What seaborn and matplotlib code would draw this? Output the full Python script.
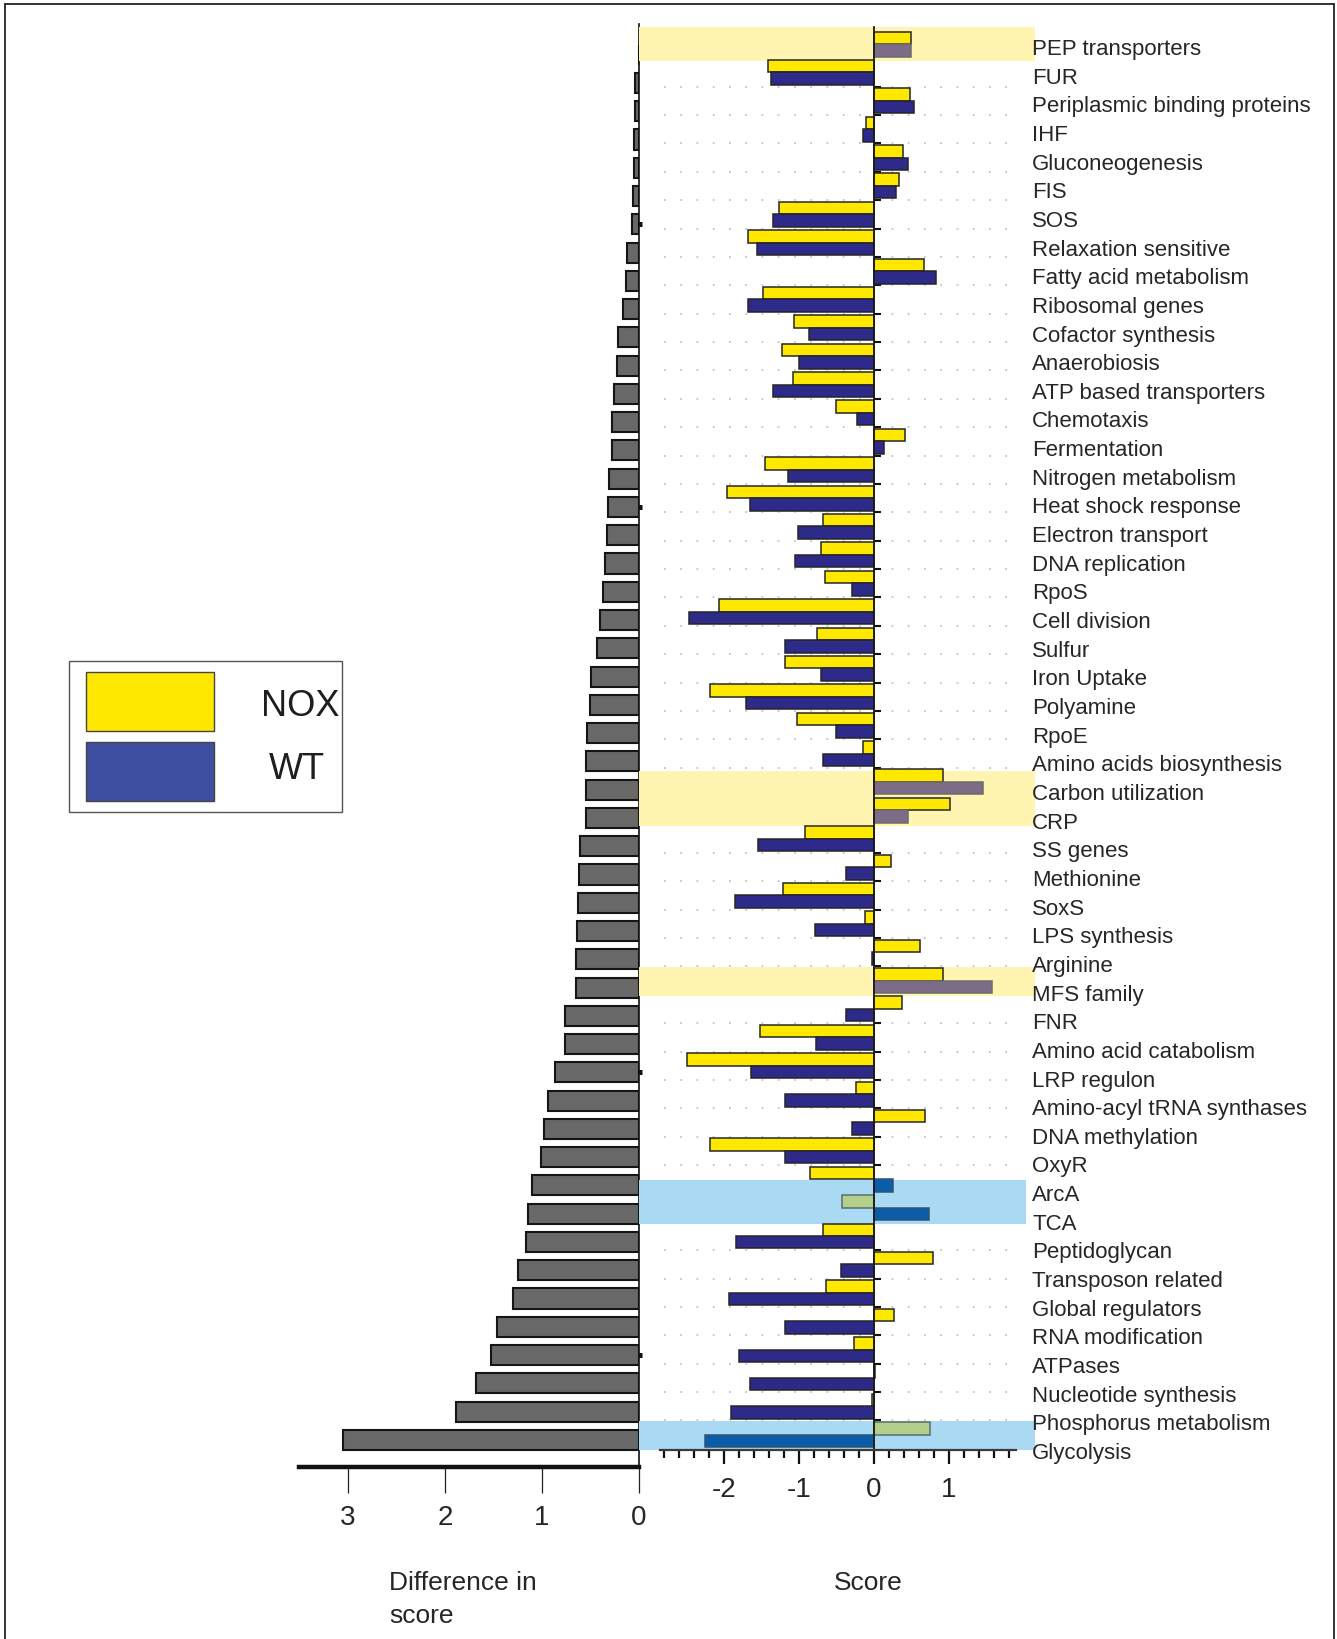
import numpy as np
import pandas as pd
import matplotlib
matplotlib.use("Agg")
import matplotlib.pyplot as plt
from matplotlib import font_manager
from matplotlib.lines import Line2D
from matplotlib.patches import Rectangle
from matplotlib.ticker import FixedLocator
import seaborn as sns

# ---------------------------------------------------------------- data
categories = [
    "PEP transporters", "FUR", "Periplasmic binding proteins", "IHF",
    "Gluconeogenesis", "FIS", "SOS", "Relaxation sensitive",
    "Fatty acid metabolism", "Ribosomal genes", "Cofactor synthesis",
    "Anaerobiosis", "ATP based transporters", "Chemotaxis", "Fermentation",
    "Nitrogen metabolism", "Heat shock response", "Electron transport",
    "DNA replication", "RpoS", "Cell division", "Sulfur", "Iron Uptake",
    "Polyamine", "RpoE", "Amino acids biosynthesis", "Carbon utilization",
    "CRP", "SS genes", "Methionine", "SoxS", "LPS synthesis", "Arginine",
    "MFS family", "FNR", "Amino acid catabolism", "LRP regulon",
    "Amino-acyl tRNA synthases", "DNA methylation", "OxyR", "ArcA", "TCA",
    "Peptidoglycan", "Transposon related", "Global regulators",
    "RNA modification", "ATPases", "Nucleotide synthesis",
    "Phosphorus metabolism", "Glycolysis",
]

nox_score = [
    0.50, -1.41, 0.48, -0.10, 0.39, 0.34, -1.27, -1.68, 0.67, -1.48,
    -1.06, -1.22, -1.08, -0.50, 0.41, -1.45, -1.96, -0.68, -0.70, -0.65,
    -2.06, -0.76, -1.19, -2.19, -1.03, -0.15, 0.92, 1.01, -0.92, 0.23,
    -1.21, -0.12, 0.61, 0.92, 0.37, -1.52, -2.49, -0.24, 0.68, -2.19,
    -0.85, -0.42, -0.68, 0.79, -0.64, 0.27, -0.27, 0.01, -0.03, 0.75,
]

wt_score = [
    0.50, -1.37, 0.54, -0.15, 0.45, 0.29, -1.35, -1.56, 0.83, -1.68,
    -0.86, -1.00, -1.35, -0.23, 0.13, -1.15, -1.65, -1.01, -1.05, -0.29,
    -2.46, -1.19, -0.70, -1.70, -0.50, -0.68, 1.46, 0.46, -1.54, -0.37,
    -1.85, -0.78, -0.03, 1.58, -0.37, -0.77, -1.64, -1.18, -0.29, -1.18,
    0.25, 0.73, -1.84, -0.44, -1.93, -1.19, -1.80, -1.65, -1.91, -2.25,
]

score_difference = [
    0.0, 0.04, 0.04, 0.045, 0.045, 0.055, 0.065, 0.12, 0.135, 0.165,
    0.21, 0.225, 0.25, 0.275, 0.28, 0.31, 0.32, 0.325, 0.345, 0.365,
    0.40, 0.425, 0.49, 0.50, 0.535, 0.54, 0.545, 0.545, 0.61, 0.62,
    0.625, 0.635, 0.645, 0.645, 0.76, 0.765, 0.86, 0.94, 0.98, 1.005,
    1.105, 1.14, 1.16, 1.245, 1.30, 1.46, 1.525, 1.675, 1.88, 3.055,
]

score_ticks = [-2, -1, 0, 1]
score_tick_labels = ["-2", "-1", "0", "1"]
difference_ticks = [0, 1, 2, 3]
difference_tick_labels = ["0", "1", "2", "3"]

# highlighted rows: (first row edge, last row edge, right end in score units)
yellow_groups = [(-0.6, 0.6, None), (25.6, 27.56, None), (32.52, 33.54, None)]
blue_groups = [(40.03, 41.58, 2.03), (48.53, 49.54, None)]
yellow_rows_wt = [0, 26, 27, 33]
blue_rows_nox = [41, 49]
blue_rows_wt = [40, 41, 49]

# ---------------------------------------------------------------- style
YELLOW = "#FFE800"
NAVY = "#2D2A8A"
GRAY = "#686868"
BAND_YELLOW = "#FFF5B1"
BAND_BLUE = "#AADAF3"
WT_ON_YELLOW = "#7C6C87"
NOX_ON_BLUE = "#B2D08C"
WT_ON_BLUE = "#0B5DAA"

sns.set_theme(style="white")
installed = {f.name for f in font_manager.fontManager.ttflist}
narrow = "Liberation Sans Narrow" if "Liberation Sans Narrow" in installed else "Liberation Sans"
plt.rcParams["font.family"] = ["Liberation Sans", "DejaVu Sans"]
plt.rcParams["axes.unicode_minus"] = False
plt.rcParams["text.color"] = "#1e1e1e"

W, H = 1337, 1640
fig = plt.figure(figsize=(W / 100, H / 100), dpi=100)
fig.patch.set_facecolor("white")


def fx(px):
    return px / W


def fy(py):
    return 1 - py / H


n = len(categories)

# ---------------------------------------------------------------- left panel: difference in score
axL = fig.add_axes([fx(299.4), fy(1468), fx(638.7 - 299.4), (1468 - 25) / H])
axL.patch.set_alpha(0)
diff_df = pd.DataFrame({"category": categories, "difference": score_difference})
sns.barplot(data=diff_df, y="category", x="difference", orient="h",
            color=GRAY, saturation=1, width=0.71, errorbar=None,
            edgecolor="#151515", linewidth=1.5, ax=axL)
axL.set_xlim(3.5, 0)
axL.set_ylim(49.96, -1.086)
for side in ("left", "top"):
    axL.spines[side].set_visible(False)
axL.spines["right"].set_color("#111111")
axL.spines["right"].set_linewidth(1.2)
axL.spines["bottom"].set_color("#111111")
axL.spines["bottom"].set_linewidth(3.2)
axL.set_xticks(difference_ticks)
axL.set_xticklabels(difference_tick_labels)
axL.tick_params(axis="x", which="major", direction="out", length=19, width=0.9,
                color="#222222", pad=8, labelsize=20, bottom=True)
axL.yaxis.tick_right()
axL.yaxis.set_major_locator(FixedLocator([6, 16, 26, 36, 46]))
axL.set_yticklabels([])
axL.tick_params(axis="y", which="major", direction="inout", length=5, width=3.6,
                color="#111111", right=True, left=False, labelright=False)
for lbl in axL.get_xticklabels():
    lbl.set_fontfamily([narrow, "DejaVu Sans"])
axL.set_ylabel("")
axL.set_xlabel("Difference in\nscore", fontsize=19, ha="left", linespacing=1.5,
               fontfamily=[narrow, "DejaVu Sans"])
axL.xaxis.set_label_coords((389 - 299.4) / (638.7 - 299.4), (1468 - 1571) / (1468 - 25))

# ---------------------------------------------------------------- right panel: scores
axR = fig.add_axes([fx(639.05), fy(1451), fx(1035 - 639.05), (1451 - 28) / H])
axR.patch.set_alpha(0)
axLab = axR.twinx()

score_df = pd.DataFrame({
    "category": categories * 2,
    "strain": ["NOX"] * n + ["WT"] * n,
    "score": nox_score + wt_score,
})
sns.barplot(data=score_df, y="category", x="score", hue="strain",
            hue_order=["NOX", "WT"], palette={"NOX": YELLOW, "WT": NAVY},
            saturation=1, width=0.88, gap=0, errorbar=None, orient="h",
            edgecolor="#262626", linewidth=1.1, legend=False, ax=axR)

x0, x1 = -3.13, 2.15
axR.set_xlim(x0, x1)
axR.set_ylim(49.54, -0.6)

# tinted bars inside the highlighted rows
nox_bars, wt_bars = axR.containers[0], axR.containers[1]
for r in yellow_rows_wt:
    wt_bars[r].set_facecolor(WT_ON_YELLOW)
    wt_bars[r].set_edgecolor("#6b6b6b")
for r in blue_rows_nox:
    nox_bars[r].set_facecolor(NOX_ON_BLUE)
    nox_bars[r].set_edgecolor("#5a6e6e")
for r in blue_rows_wt:
    wt_bars[r].set_facecolor(WT_ON_BLUE)
    wt_bars[r].set_edgecolor("#2f5470")

# highlight bands
for y0, y1, xe in yellow_groups:
    xm = 1.0 if xe is None else (xe - x0) / (x1 - x0)
    axR.axhspan(y0, y1, xmin=0, xmax=xm, color=BAND_YELLOW, lw=0, zorder=0.6)
for y0, y1, xe in blue_groups:
    xm = 1.0 if xe is None else (xe - x0) / (x1 - x0)
    axR.axhspan(y0, y1, xmin=0, xmax=xm, color=BAND_BLUE, lw=0, zorder=0.6)

# dotted row separators
axR.hlines(np.arange(n - 1) + 0.5, -2.8, 1.85, colors="#c4c4c4",
           linestyles=(0, (1, 8)), lw=1.3, zorder=0.3)

for side in ("top", "right"):
    axR.spines[side].set_visible(False)
axR.spines["left"].set_position(("data", 0))
axR.spines["left"].set_color("#1a1a1a")
axR.spines["left"].set_linewidth(1.3)
axR.spines["bottom"].set_color("#3a3a3a")
axR.spines["bottom"].set_linewidth(1.6)
axR.spines["bottom"].set_bounds(-2.85, 1.9)

axR.set_xticks(score_ticks)
axR.set_xticklabels(score_tick_labels)
axR.xaxis.set_minor_locator(FixedLocator(np.round(np.arange(-2.8, 1.81, 0.2), 2)))
axR.tick_params(axis="x", which="major", direction="out", length=10, width=1.6,
                color="#111111", pad=8.5, labelsize=20, bottom=True)
axR.tick_params(axis="x", which="minor", direction="out", length=5.5, width=1.6,
                color="#111111", bottom=True)
for lbl in axR.get_xticklabels():
    lbl.set_fontfamily([narrow, "DejaVu Sans"])

axR.set_yticks([])
axR.yaxis.set_minor_locator(FixedLocator(np.arange(n - 1) + 0.5))
axR.tick_params(axis="y", which="minor", direction="in", length=5, width=1.5,
                color="#111111", left=True, right=False)
axR.set_ylabel("")
axR.set_xlabel("Score", fontsize=19, fontfamily=[narrow, "DejaVu Sans"])
axR.xaxis.set_label_coords((868 - 639.05) / (1035 - 639.05), (1451 - 1571) / (1451 - 28))

# category names on the right
axLab.set_ylim(48.903, -0.6618)
axLab.set_yticks(range(n))
axLab.set_yticklabels(categories, fontsize=16)
axLab.tick_params(axis="y", length=0, pad=-2, right=True, labelright=True)
for side in axLab.spines:
    axLab.spines[side].set_visible(False)
axLab.set_ylabel("")

# ---------------------------------------------------------------- legend
fig.patches.append(Rectangle((fx(69), fy(813)), fx(342 - 69), (813 - 662) / H,
                             transform=fig.transFigure, facecolor="white",
                             edgecolor="#555555", lw=1.0))
fig.patches.append(Rectangle((fx(86), fy(732)), fx(214 - 86), (732 - 673) / H,
                             transform=fig.transFigure, facecolor=YELLOW,
                             edgecolor="#444444", lw=1.0))
fig.patches.append(Rectangle((fx(86), fy(802)), fx(214 - 86), (802 - 743) / H,
                             transform=fig.transFigure, facecolor="#3F4F9F",
                             edgecolor="#444444", lw=1.0))
fig.text(fx(300), fy(707), "NOX", fontsize=26, ha="center", va="center")
fig.text(fx(297), fy(770), "WT", fontsize=26, ha="center", va="center")

# ---------------------------------------------------------------- frame
frame = dict(color="#222222", lw=1.3, transform=fig.transFigure)
fig.add_artist(Line2D([fx(5), fx(5)], [fy(5), 0], **frame))
fig.add_artist(Line2D([fx(5), fx(1334)], [fy(5), fy(5)], **frame))
fig.add_artist(Line2D([fx(1334), fx(1334)], [fy(5), 0], **frame))

fig.savefig("out.png", dpi=100, facecolor="white")
